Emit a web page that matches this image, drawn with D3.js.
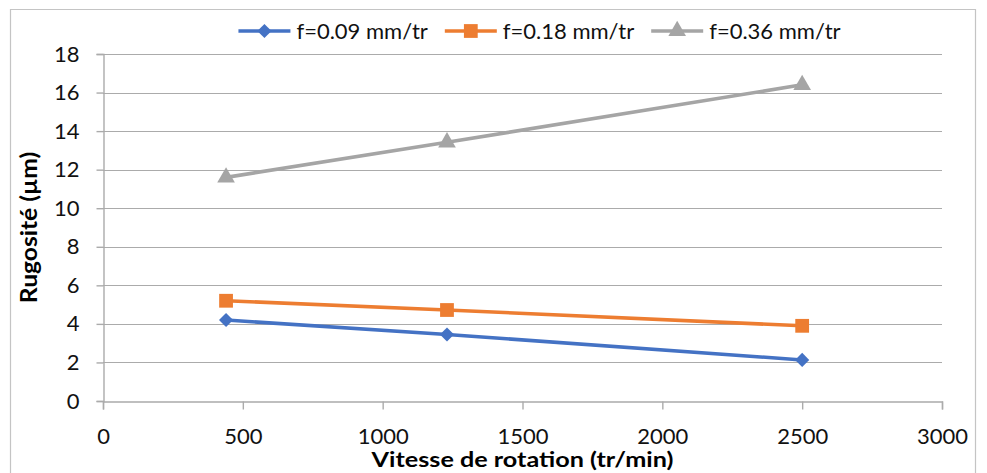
<!DOCTYPE html>
<html>
<head>
<meta charset="utf-8">
<script src="https://cdn.jsdelivr.net/npm/d3@7/dist/d3.min.js"></script>
<style>
  html, body { margin: 0; padding: 0; background: #fff; }
  svg { display: block; font-family: Lato, "Open Sans", sans-serif; }
</style>
</head>
<body>
<svg id="chart" width="987" height="473"></svg>
<script>
// Surface roughness vs spindle speed, for three feed rates
const speeds = [440, 1230, 2500];
const seriesNames = ["f=0.09 mm/tr", "f=0.18 mm/tr", "f=0.36 mm/tr"];
const roughF009 = [4.2, 3.45, 2.13];
const roughF018 = [5.2, 4.72, 3.9];
const roughF036 = [11.6, 13.42, 16.4];
const xTicks = [0, 500, 1000, 1500, 2000, 2500, 3000];
const yTicks = [0, 2, 4, 6, 8, 10, 12, 14, 16, 18];
const xTitle = "Vitesse de rotation (tr/min)";
const yTitle = "Rugosité (µm)";

const colors = ["#4472c4", "#ed7d31", "#a5a5a5"];
// diamond = square turned 45°
const symbols = [d3.symbolSquare, d3.symbolSquare, d3.symbolTriangle];
const symbolSizes = [100, 190, 135];
const symbolRot = [45, 0, 0];

const series = [roughF009, roughF018, roughF036].map((vals, i) => ({
  name: seriesNames[i],
  color: colors[i],
  symbol: symbols[i],
  size: symbolSizes[i],
  rot: symbolRot[i],
  points: speeds.map((s, j) => ({ x: s, y: vals[j] }))
}));

const svg = d3.select("#chart");

// chart frame
svg.append("path")
  .attr("d", "M10.5,480 V9.5 H975.5 V480")
  .attr("fill", "none")
  .attr("stroke", "#c4c4c4")
  .attr("stroke-width", 1.2);

const x = d3.scaleLinear().domain([0, 3000]).range([103, 942]);
const y = d3.scaleLinear().domain([0, 18]).range([401, 54]);

// horizontal gridlines
svg.append("g")
  .selectAll("line")
  .data(yTicks.filter(d => d > 0))
  .join("line")
  .attr("x1", x(0)).attr("x2", x(3000))
  .attr("y1", d => Math.round(y(d)) + 0.5)
  .attr("y2", d => Math.round(y(d)) + 0.5)
  .attr("stroke", "#ababab")
  .attr("stroke-width", 1.2);

// x axis
const xAxis = svg.append("g")
  .attr("transform", `translate(0,${Math.round(y(0)) + 0.5})`)
  .call(d3.axisBottom(x).tickValues(xTicks).tickSize(8).tickPadding(19).tickFormat(d3.format("d")));
xAxis.select(".domain").attr("stroke", "#ababab").attr("stroke-width", 1.4);
xAxis.selectAll(".tick line").attr("stroke", "#ababab").attr("stroke-width", 1.4);
xAxis.selectAll(".tick text")
  .attr("fill", "#111")
  .style("font-size", "22px")
  .style("font-family", "Lato, 'Open Sans', sans-serif");

// y axis
const yAxis = svg.append("g")
  .attr("transform", `translate(${Math.round(x(0)) + 0.5},0)`)
  .call(d3.axisLeft(y).tickValues(yTicks).tickSize(7).tickPadding(17).tickFormat(d3.format("d")));
yAxis.select(".domain").attr("stroke", "#ababab").attr("stroke-width", 1.4);
yAxis.selectAll(".tick line").attr("stroke", "#ababab").attr("stroke-width", 1.4);
yAxis.selectAll(".tick text")
  .attr("fill", "#111")
  .style("font-size", "22px")
  .style("font-family", "Lato, 'Open Sans', sans-serif");

// series lines and markers
const line = d3.line().x(d => x(d.x)).y(d => y(d.y));
const sg = svg.append("g").selectAll("g").data(series).join("g");
sg.append("path")
  .attr("d", d => line(d.points))
  .attr("fill", "none")
  .attr("stroke", d => d.color)
  .attr("stroke-width", 3.6)
  .attr("stroke-linejoin", "round");
sg.each(function(s) {
  d3.select(this).selectAll("path.mk")
    .data(s.points)
    .join("path")
    .attr("class", "mk")
    .attr("d", d3.symbol().type(s.symbol).size(s.size))
    .attr("transform", d => `translate(${x(d.x)},${y(d.y)}) rotate(${s.rot})`)
    .attr("fill", s.color);
});

// axis titles
svg.append("text")
  .attr("transform", `translate(${(x(0) + x(3000)) / 2},466.5) scale(1.2,1)`)
  .attr("text-anchor", "middle")
  .attr("font-weight", "bold")
  .attr("font-size", 21)
  .attr("fill", "#000")
  .text(xTitle);

svg.append("text")
  .attr("transform", `translate(37,${(y(0) + y(18)) / 2}) rotate(-90) scale(1.12,1)`)
  .attr("text-anchor", "middle")
  .attr("font-weight", "bold")
  .attr("font-size", 22)
  .attr("fill", "#000")
  .text(yTitle);

// legend
const legend = svg.append("g");
const items = legend.selectAll("g").data(series).join("g");
items.append("line")
  .attr("x1", 0).attr("x2", 52)
  .attr("stroke", d => d.color)
  .attr("stroke-width", 3.6);
items.append("path")
  .attr("d", d => d3.symbol().type(d.symbol).size(d.size)())
  .attr("transform", d => `translate(26,0) rotate(${d.rot})`)
  .attr("fill", d => d.color);
items.append("text")
  .attr("x", 58)
  .attr("dy", "0.35em")
  .attr("font-size", 22)
  .attr("fill", "#111")
  .text(d => d.name);

let cursor = 0;
items.each(function() {
  const g = d3.select(this);
  const w = 58 + g.select("text").node().getComputedTextLength();
  g.attr("transform", `translate(${cursor},0)`);
  cursor += w + 17;
});
const totalW = cursor - 17;
legend.attr("transform", `translate(${539.5 - totalW / 2},31)`);
</script>
</body>
</html>
